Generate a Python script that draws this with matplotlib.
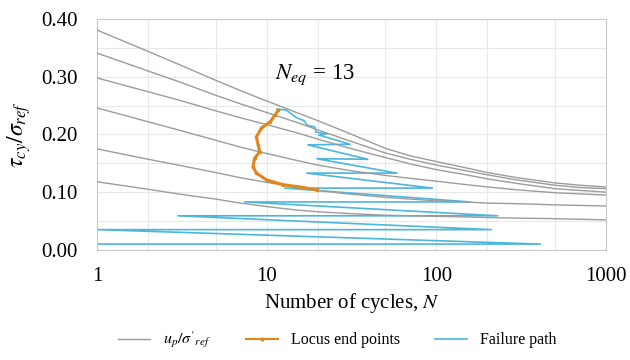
import matplotlib
matplotlib.use('Agg')
from matplotlib import pyplot as plt
import numpy as np

plt.rcParams['font.family'] = ['Liberation Serif', 'DejaVu Serif']
plt.rcParams['mathtext.fontset'] = 'stix'

# pore pressure contours u_p/sigma'_ref, sampled at these cycle counts
n_contour = [1, 2, 3, 5, 7, 10, 15, 20, 30, 50, 70, 100, 150, 200, 300, 500, 700, 1000]
contour_1 = [0.381, 0.344, 0.322, 0.294, 0.276, 0.258, 0.238, 0.224, 0.203, 0.176,
             0.163, 0.153, 0.142, 0.134, 0.125, 0.116, 0.112, 0.109]
contour_2 = [0.341, 0.310, 0.292, 0.268, 0.253, 0.238, 0.221, 0.208, 0.190, 0.168,
             0.157, 0.147, 0.137, 0.130, 0.121, 0.112, 0.108, 0.106]
contour_3 = [0.298, 0.274, 0.260, 0.241, 0.229, 0.217, 0.203, 0.192, 0.177, 0.160,
             0.149, 0.139, 0.130, 0.123, 0.115, 0.106, 0.103, 0.100]
contour_4 = [0.246, 0.222, 0.208, 0.190, 0.178, 0.167, 0.155, 0.147, 0.138, 0.129,
             0.124, 0.119, 0.113, 0.109, 0.104, 0.099, 0.097, 0.095]
contour_5 = [0.175, 0.157, 0.147, 0.134, 0.125, 0.117, 0.108, 0.103, 0.097, 0.091,
             0.088, 0.085, 0.083, 0.081, 0.080, 0.078, 0.077, 0.076]
contour_6 = [0.118, 0.105, 0.097, 0.088, 0.081, 0.075, 0.069, 0.066, 0.063, 0.060,
             0.059, 0.058, 0.057, 0.056, 0.055, 0.054, 0.053, 0.052]
contours = [contour_1, contour_2, contour_3, contour_4, contour_5, contour_6]

# locus of end points
locus_n = [11.7, 11.2, 10.5, 9.3, 8.7, 8.9, 9.1, 8.5, 8.3, 8.7, 10.0, 12.5, 15.7, 19.7]
locus_tau = [0.242, 0.234, 0.222, 0.211, 0.196, 0.182, 0.170, 0.159, 0.144,
             0.133, 0.121, 0.113, 0.109, 0.104]

# failure path (zigzag)
fail_n = [11.5, 13.1, 15.0, 16.6, 17.3, 19.2, 19.5, 22.6, 20.3, 31.0, 17.5,
          39.4, 19.7, 58.6, 17.2, 95.0, 12.8, 158.0, 7.4, 230.0, 3.0,
          211.0, 1.0, 410.0, 1.0]
fail_tau = [0.244, 0.242, 0.229, 0.224, 0.216, 0.213, 0.204, 0.201, 0.199, 0.183, 0.182,
            0.157, 0.158, 0.133, 0.133, 0.107, 0.107, 0.083, 0.083, 0.059, 0.059,
            0.035, 0.035, 0.010, 0.010]

n_eq = 13

fig = plt.figure(figsize=(6.3, 3.6), dpi=100)
ax = fig.add_axes([0.154, 0.306, 0.808, 0.641])

ax.plot(fail_n, fail_tau, color='#4db6dc', lw=1.2, zorder=2)
for c in contours:
    ax.plot(n_contour, c, color='#9c9c9c', lw=1.0, zorder=3)
ax.plot(locus_n, locus_tau, color='#e0861a', lw=2.2, marker='o', markersize=1.5,
        zorder=4)

ax.text(11.2, 0.303, r'$N_{eq}$ = ' + str(n_eq), fontsize=16.5, va='center', ha='left')

ax.set_xscale('log')
ax.set_xlim(1, 1000)
ax.set_ylim(0, 0.40)
ax.set_xticks([1, 10, 100, 1000])
ax.set_xticklabels(['1', '10', '100', '1000'])
ax.set_xticks([2, 5, 20, 50, 200, 500], minor=True)
ax.set_xticklabels([], minor=True)
ax.set_yticks([0, 0.1, 0.2, 0.3, 0.4])
ax.set_yticklabels(['0.00', '0.10', '0.20', '0.30', '0.40'])
ax.set_yticks([0.05, 0.15, 0.25, 0.35], minor=True)
ax.grid(True, which='both', color='#e8e8e8', lw=0.8, zorder=0)
ax.set_axisbelow(True)
ax.tick_params(which='both', length=0, labelsize=15)
ax.tick_params(axis='y', pad=14)
ax.tick_params(axis='x', pad=12)
for s in ax.spines.values():
    s.set_color('#c8c8c8')

ax.set_xlabel(r'Number of cycles, $N$', fontsize=15, labelpad=4)
ax.set_ylabel(r'$\tau_{cy}/\sigma_{ref}$', fontsize=17, labelpad=6)

h1, = ax.plot([], [], color='#9c9c9c', lw=1.0)
h2, = ax.plot([], [], color='#e0861a', lw=1.5, marker='o', markersize=2)
h3, = ax.plot([], [], color='#4db6dc', lw=1.2)
fig.legend([h1, h2, h3], [r"$u_p/\sigma'_{ref}$", 'Locus end points', 'Failure path'],
           loc='center', bbox_to_anchor=(0.535, 0.055), ncol=3, frameon=False,
           fontsize=11.5, handlelength=2.0, columnspacing=2.2, handletextpad=0.8)

fig.savefig('out.png', dpi=100)
